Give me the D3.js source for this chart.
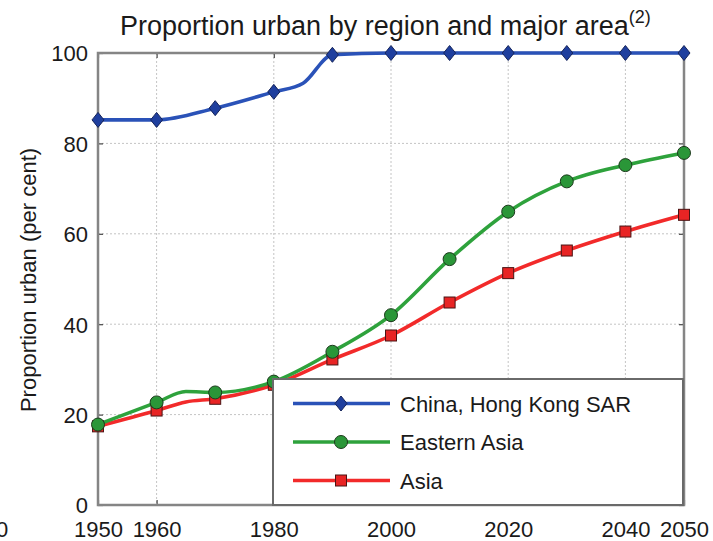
<!DOCTYPE html>
<html>
<head>
<meta charset="utf-8">
<script src="https://cdn.jsdelivr.net/npm/d3@7"></script>
<style>
  html, body { margin: 0; padding: 0; background: #fff; }
  text { font-family: "Liberation Sans", Arial, Helvetica, sans-serif; fill: #1a1a1a; }
</style>
</head>
<body>
<svg id="chart" width="713" height="541"></svg>
<script>
// ---- data ----
const xTicks = [1950, 1960, 1980, 2000, 2020, 2040, 2050];
const yTicks = [0, 20, 40, 60, 80, 100];
const seriesNames = ["China, Hong Kong SAR", "Eastern Asia", "Asia"];

const hkYears = [1950, 1960, 1970, 1980, 1985, 1990, 2000, 2010, 2020, 2030, 2040, 2050];
const hkValues = [85.2, 85.2, 87.8, 91.4, 93.3, 99.6, 100, 100, 100, 100, 100, 100];

const eaYears = [1950, 1960, 1965, 1970, 1980, 1990, 2000, 2010, 2020, 2030, 2040, 2050];
const eaValues = [17.8, 22.7, 25.1, 24.9, 27.3, 33.9, 42.0, 54.4, 64.9, 71.6, 75.2, 77.9];

const asYears = [1950, 1960, 1965, 1970, 1980, 1990, 2000, 2010, 2020, 2030, 2040, 2050];
const asValues = [17.4, 20.9, 22.8, 23.5, 26.6, 32.2, 37.5, 44.8, 51.3, 56.3, 60.5, 64.2];

const titleText = "Proportion urban by region and major area";
const titleNote = "(2)";
const yLabel = "Proportion urban (per cent)";

// ---- layout ----
const svg = d3.select("#chart");
const pL = 98, pR = 684, pT = 53, pB = 505;
const x = d3.scaleLinear().domain([1950, 2050]).range([pL, pR]);
const y = d3.scaleLinear().domain([0, 100]).range([pB, pT]);

// grid
const grid = svg.append("g");
grid.selectAll("line.gx").data(xTicks.filter(d => d > 1950 && d < 2050)).enter()
  .append("line").attr("x1", d => x(d)).attr("x2", d => x(d))
  .attr("y1", pT).attr("y2", pB)
  .attr("stroke", "#c4c4c4").attr("stroke-width", 1).attr("stroke-dasharray", "2,2");
grid.selectAll("line.gy").data(yTicks.filter(d => d > 0 && d < 100)).enter()
  .append("line").attr("x1", pL).attr("x2", pR)
  .attr("y1", d => y(d)).attr("y2", d => y(d))
  .attr("stroke", "#c4c4c4").attr("stroke-width", 1).attr("stroke-dasharray", "2,2");

// axes (ticks on all four sides, pointing inward)
const fmt = d3.format("d");
const gx = svg.append("g").attr("transform", `translate(0,${pB})`)
  .call(d3.axisBottom(x).tickValues(xTicks).tickFormat(fmt).tickSize(-5).tickPadding(0));
const gxt = svg.append("g").attr("transform", `translate(0,${pT})`)
  .call(d3.axisTop(x).tickValues(xTicks).tickFormat("").tickSize(-5));
const gy = svg.append("g").attr("transform", `translate(${pL},0)`)
  .call(d3.axisLeft(y).tickValues(yTicks).tickSize(-5).tickPadding(10));
const gyr = svg.append("g").attr("transform", `translate(${pR},0)`)
  .call(d3.axisRight(y).tickValues(yTicks).tickFormat("").tickSize(-5));
[gx, gxt, gy, gyr].forEach(g => {
  g.select(".domain").remove();
  g.selectAll(".tick line").attr("stroke", "#444").attr("stroke-width", 1.2);
  g.selectAll(".tick text").style("font-size", "22px").attr("fill", "#1a1a1a")
    .style("font-family", '"Liberation Sans", Arial, sans-serif');
});
gx.selectAll(".tick text").attr("y", 32).attr("dy", 0);
gy.selectAll(".tick text").attr("dy", "0.36em");

// frame
svg.append("rect").attr("x", pL).attr("y", pT).attr("width", pR - pL).attr("height", pB - pT)
  .attr("fill", "none").attr("stroke", "#858585").attr("stroke-width", 2.5);

// series
const series = [
  { name: seriesNames[0], years: hkYears, values: hkValues, color: "#2a52b8", fill: "#1f3f9e", shape: "diamond" },
  { name: seriesNames[1], years: eaYears, values: eaValues, color: "#2ea23c", fill: "#2a9638", shape: "circle" },
  { name: seriesNames[2], years: asYears, values: asValues, color: "#f22a2a", fill: "#e82424", shape: "square" }
];

const line = d3.line().x(d => x(d[0])).y(d => y(d[1])).curve(d3.curveMonotoneX);

function drawMarker(g, shape, cx, cy, s) {
  if (shape === "diamond") {
    g.append("path").attr("d", `M${cx},${cy - 7.5}L${cx + 6},${cy}L${cx},${cy + 7.5}L${cx - 6},${cy}Z`)
      .attr("fill", s.fill).attr("stroke", "#15245a").attr("stroke-width", 1);
  } else if (shape === "circle") {
    g.append("circle").attr("cx", cx).attr("cy", cy).attr("r", 6.5)
      .attr("fill", s.fill).attr("stroke", "#1c3a1c").attr("stroke-width", 1);
  } else {
    g.append("rect").attr("x", cx - 5.5).attr("y", cy - 5.5).attr("width", 11).attr("height", 11)
      .attr("fill", s.fill).attr("stroke", "#4a1414").attr("stroke-width", 1);
  }
}

[series[2], series[1], series[0]].forEach(s => {
  const pts = s.years.map((yr, i) => [yr, s.values[i]]);
  svg.append("path").datum(pts).attr("d", line).attr("fill", "none")
    .attr("stroke", s.color).attr("stroke-width", 3.6);
});
[series[2], series[1], series[0]].forEach(s => {
  const g = svg.append("g");
  s.years.forEach((yr, i) => {
    if (yr % 10 === 0) drawMarker(g, s.shape, x(yr), y(s.values[i]), s);
  });
});

// legend
const lg = svg.append("g");
const lx0 = 273, ly0 = 379, lx1 = 683, ly1 = 505;
lg.append("rect").attr("x", lx0).attr("y", ly0).attr("width", lx1 - lx0).attr("height", ly1 - ly0)
  .attr("fill", "#fff").attr("stroke", "#6a6a6a").attr("stroke-width", 2);
const legY = [403.5, 442, 480.5];
series.forEach((s, i) => {
  lg.append("line").attr("x1", 293).attr("x2", 390).attr("y1", legY[i]).attr("y2", legY[i])
    .attr("stroke", s.color).attr("stroke-width", 3.6);
  drawMarker(lg, s.shape, 341, legY[i], s);
  lg.append("text").attr("x", 400).attr("y", legY[i] + 8).style("font-size", "22px").text(s.name);
});

// title
const t = svg.append("text").attr("x", 120).attr("y", 35).style("font-size", "27px");
t.append("tspan").text(titleText);
t.append("tspan").attr("dy", -12).style("font-size", "18px").text(titleNote);

// y label
svg.append("text").attr("transform", `translate(36,280) rotate(-90)`)
  .attr("text-anchor", "middle").style("font-size", "22px").text(yLabel);

// clipped neighbouring tick label at far left
svg.append("text").attr("x", -4).attr("y", 537).style("font-size", "22px").text("0");
</script>
</body>
</html>
